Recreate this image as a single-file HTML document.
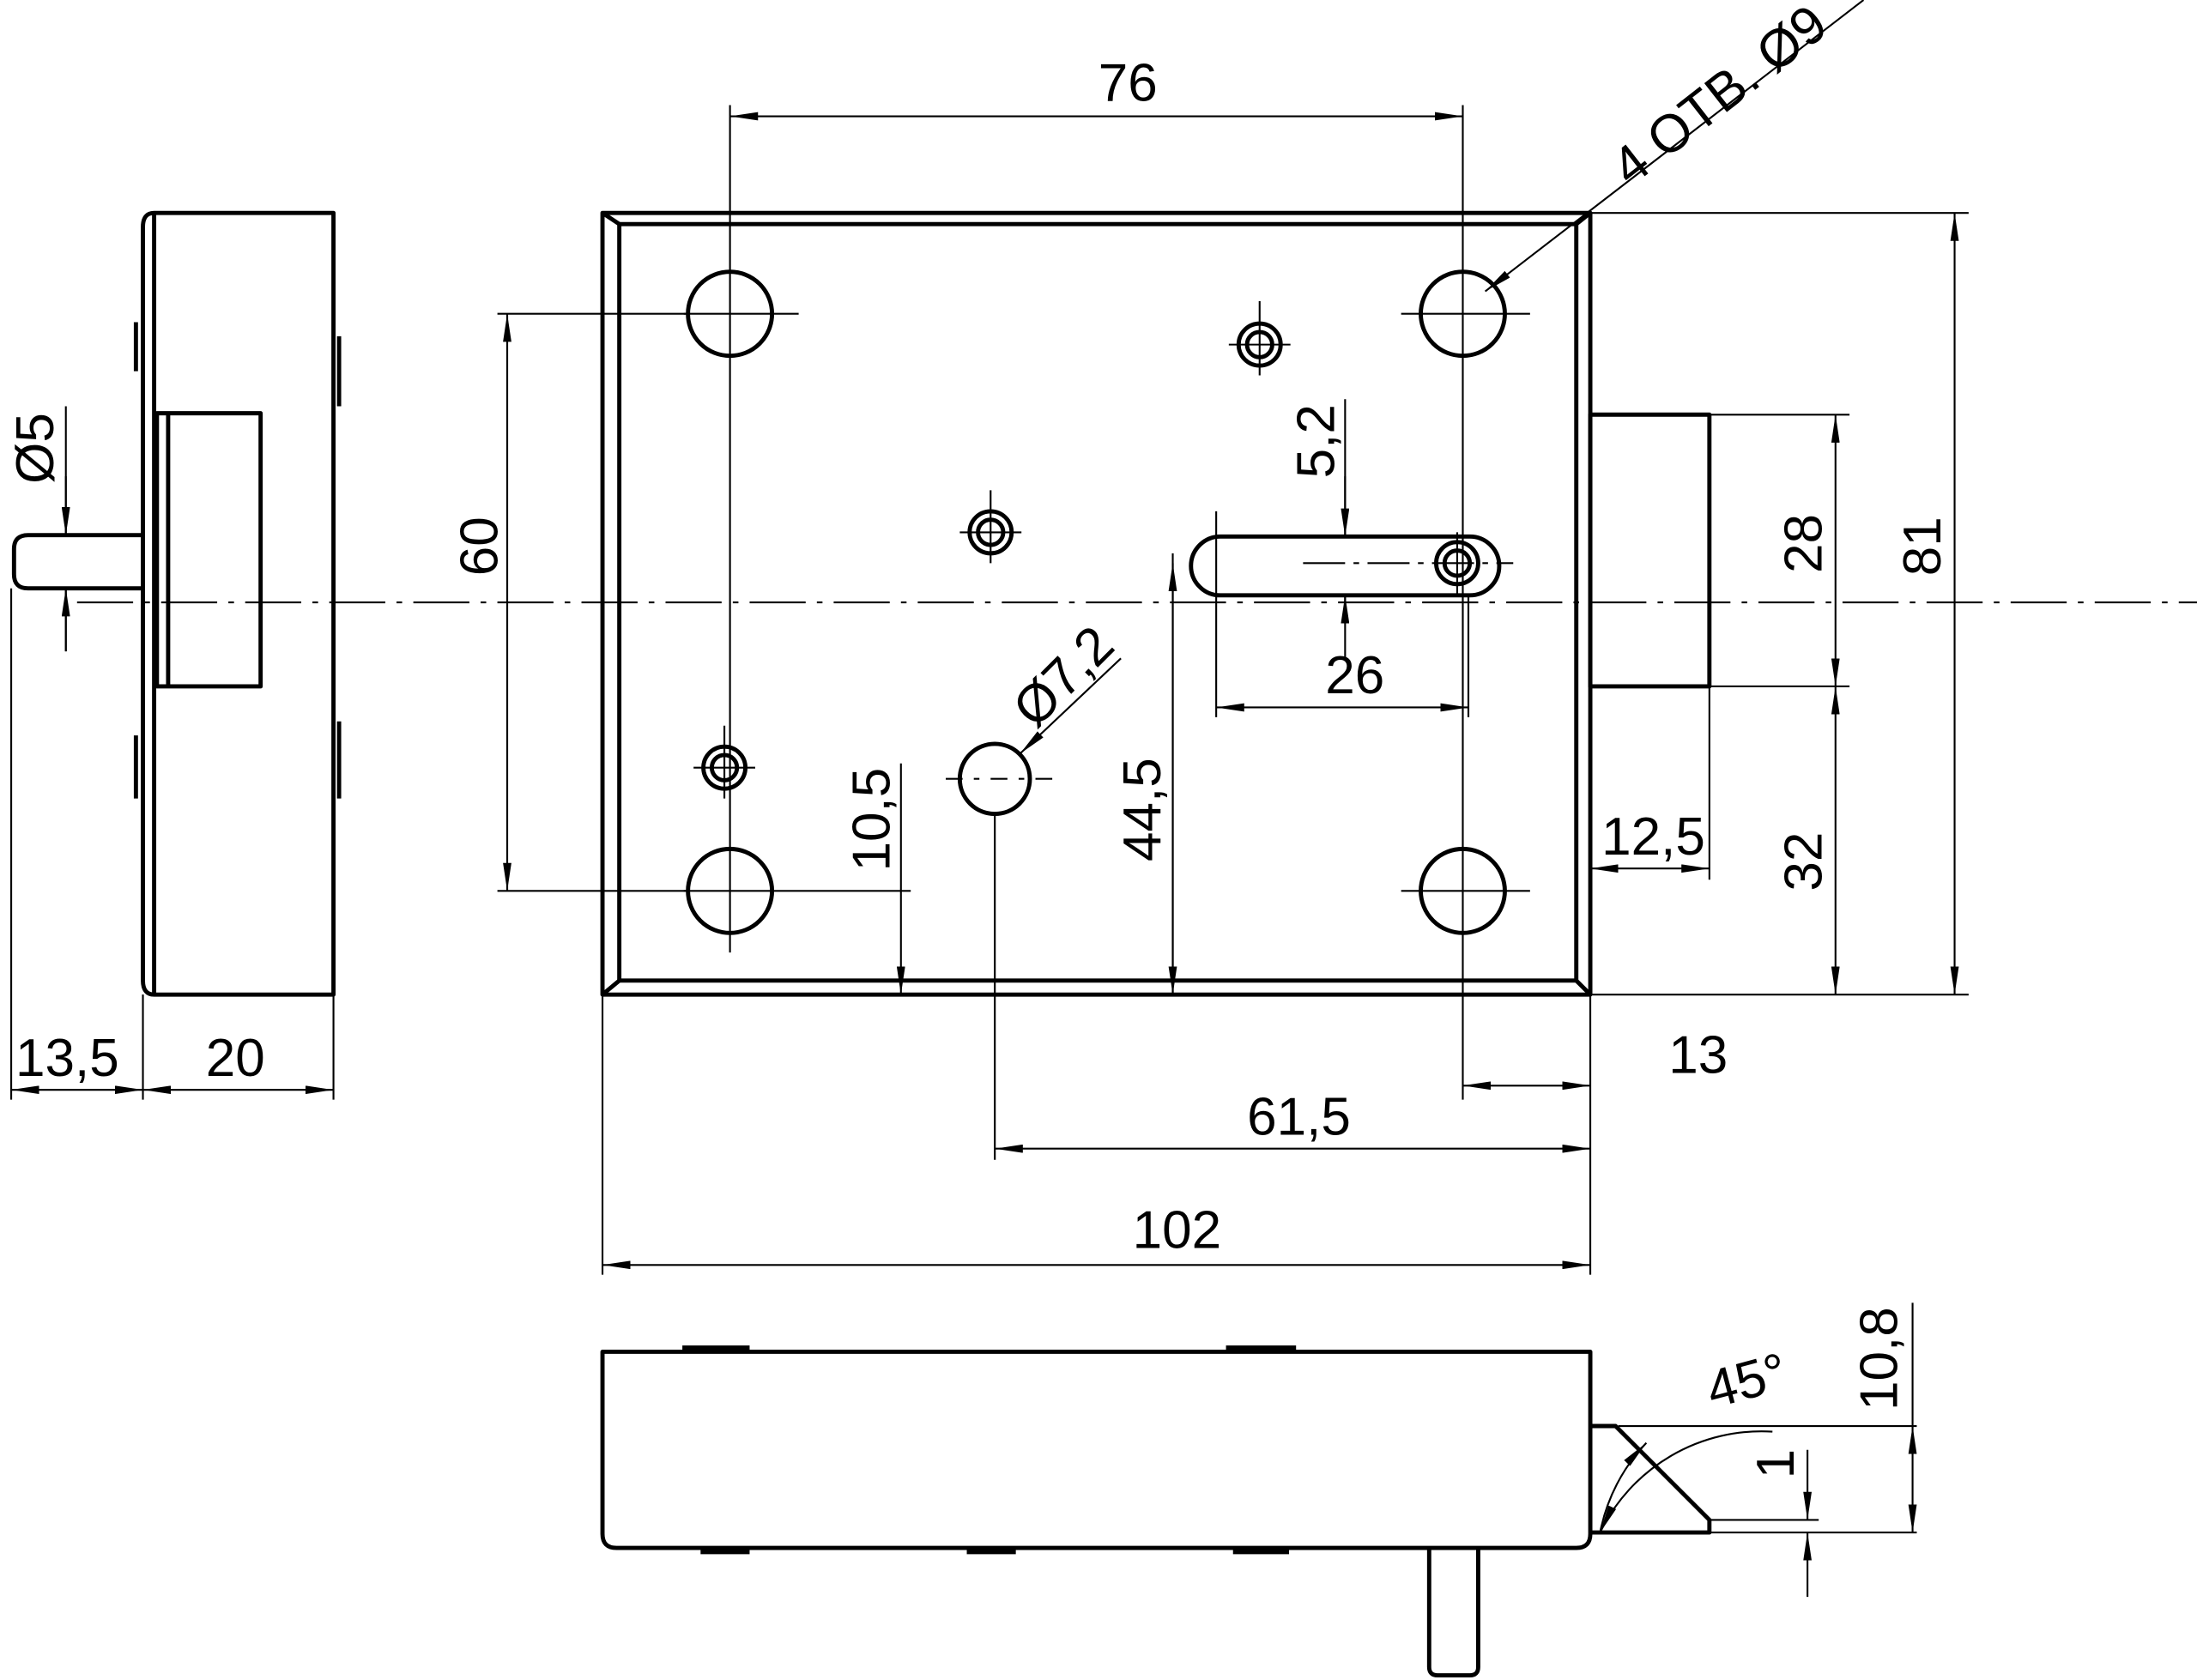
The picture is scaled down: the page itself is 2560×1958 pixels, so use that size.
<!DOCTYPE html>
<html><head><meta charset="utf-8"><style>html,body{margin:0;padding:0;background:#fff}svg{display:block}</style></head><body>
<svg width="2560" height="1958" viewBox="0 0 1568 1199.3" preserveAspectRatio="none" xmlns="http://www.w3.org/2000/svg" font-family="Liberation Sans, sans-serif" font-size="38">
<defs>
<marker id="a" viewBox="0 0 20 6" refX="20" refY="3" markerWidth="20" markerHeight="6" markerUnits="userSpaceOnUse" orient="auto-start-reverse"><path d="M0,0 L20,3 L0,6 Z" fill="#000"/></marker>
</defs>
<g fill="none" stroke="#000" stroke-width="3" stroke-linejoin="round">
<!-- left view -->
<path d="M110,152 H238 V710 H110 Q102,710 102,700 V162 Q102,152 110,152 Z"/>
<line x1="110" y1="152" x2="110" y2="710"/>
<rect x="112" y="295" width="74" height="195"/>
<line x1="120" y1="295" x2="120" y2="490"/>
<path d="M102,382 H20 Q10,382 10,392 V410 Q10,420 20,420 H102"/>
<line x1="97" y1="230" x2="97" y2="265"/><line x1="97" y1="525" x2="97" y2="570"/>
<line x1="242" y1="240" x2="242" y2="290"/><line x1="242" y1="515" x2="242" y2="570"/>
<!-- main plate -->
<rect x="430" y="152" width="705" height="558"/>
<rect x="442" y="160" width="683" height="540"/>
<line x1="430" y1="152" x2="442" y2="160"/><line x1="1135" y1="152" x2="1125" y2="160"/>
<line x1="430" y1="710" x2="442" y2="700"/><line x1="1135" y1="710" x2="1125" y2="700"/>
<circle cx="521" cy="224" r="30"/><circle cx="1044" cy="224" r="30"/>
<circle cx="521" cy="636" r="30"/><circle cx="1044" cy="636" r="30"/>
<circle cx="899" cy="246" r="15"/><circle cx="899" cy="246" r="9"/>
<circle cx="707" cy="380" r="15"/><circle cx="707" cy="380" r="9"/>
<circle cx="517" cy="548" r="15"/><circle cx="517" cy="548" r="9"/>
<circle cx="710" cy="556" r="25"/>
<path d="M871,383 H1049 A21,21 0 0 1 1049,425 H871 A21,21 0 0 1 871,383 Z"/>
<circle cx="1040" cy="402" r="15"/><circle cx="1040" cy="402" r="9"/>
<rect x="1135" y="296" width="85" height="194"/>
<!-- bottom view -->
<path d="M430,965 H1135 V1095 Q1135,1105 1125,1105 H440 Q430,1105 430,1095 Z"/>
<line x1="487" y1="962" x2="535" y2="962"/><line x1="875" y1="962" x2="925" y2="962"/>
<line x1="500" y1="1108" x2="535" y2="1108"/><line x1="690" y1="1108" x2="725" y2="1108"/><line x1="880" y1="1108" x2="920" y2="1108"/>
<path d="M1135,1018 H1153 L1220,1085 V1094 H1135"/>
<path d="M1020,1105 V1190 Q1020,1196 1026,1196 H1049 Q1055,1196 1055,1190 V1105"/>
</g>
<g fill="none" stroke="#000" stroke-width="1.3">
<!-- center lines -->
<line x1="55" y1="430" x2="1568" y2="430" stroke-dasharray="40,8,4,8"/>
<line x1="1040" y1="380" x2="1040" y2="424" /><line x1="930" y1="402" x2="1080" y2="402" stroke-dasharray="30,6,4,6"/>
<g stroke-dasharray="none">
<line x1="488" y1="224" x2="570" y2="224"/><line x1="1000" y1="224" x2="1092" y2="224"/>
<line x1="1000" y1="636" x2="1092" y2="636"/><line x1="488" y1="636" x2="650" y2="636"/>
<line x1="877" y1="246" x2="921" y2="246"/><line x1="899" y1="215" x2="899" y2="268"/>
<line x1="685" y1="380" x2="729" y2="380"/><line x1="707" y1="350" x2="707" y2="402"/>
<line x1="495" y1="548" x2="539" y2="548"/><line x1="517" y1="518" x2="517" y2="570"/>
<line x1="675" y1="556" x2="755" y2="556" stroke-dasharray="12,8,4,8"/>
</g>
<!-- extension lines -->
<line x1="521" y1="75" x2="521" y2="680"/><line x1="1044" y1="75" x2="1044" y2="785"/>
<line x1="355" y1="224" x2="490" y2="224"/><line x1="355" y1="636" x2="490" y2="636"/>
<line x1="1135" y1="152" x2="1405" y2="152"/><line x1="1135" y1="710" x2="1405" y2="710"/>
<line x1="1220" y1="296" x2="1320" y2="296"/><line x1="1220" y1="490" x2="1320" y2="490"/>
<line x1="1220" y1="490" x2="1220" y2="628"/><line x1="1135" y1="710" x2="1135" y2="910"/>
<line x1="430" y1="710" x2="430" y2="910"/><line x1="710" y1="580" x2="710" y2="828"/>
<line x1="868" y1="365" x2="868" y2="512"/><line x1="1048" y1="425" x2="1048" y2="512"/>
<line x1="8" y1="420" x2="8" y2="785"/><line x1="102" y1="710" x2="102" y2="785"/><line x1="238" y1="710" x2="238" y2="785"/>
<line x1="643" y1="545" x2="643" y2="636"/><line x1="837" y1="395" x2="837" y2="710"/>
<line x1="960" y1="285" x2="960" y2="383"/><line x1="960" y1="425" x2="960" y2="445"/>
<line x1="47" y1="290" x2="47" y2="382"/><line x1="47" y1="420" x2="47" y2="465"/>
<!-- dims -->
<g marker-start="url(#a)" marker-end="url(#a)">
<line x1="521" y1="83" x2="1044" y2="83"/>
<line x1="362" y1="224" x2="362" y2="636"/>
<line x1="1395" y1="152" x2="1395" y2="710"/>
<line x1="1310" y1="296" x2="1310" y2="490"/>
<line x1="1310" y1="490" x2="1310" y2="710"/>
<line x1="1135" y1="620" x2="1220" y2="620"/>
<line x1="1044" y1="775" x2="1135" y2="775"/>
<line x1="710" y1="820" x2="1135" y2="820"/>
<line x1="430" y1="903" x2="1135" y2="903"/>
<line x1="8" y1="778" x2="102" y2="778"/>
<line x1="102" y1="778" x2="238" y2="778"/>
<line x1="868" y1="505" x2="1048" y2="505"/>
<line x1="837" y1="402" x2="837" y2="710"/>
</g>
<line x1="643" y1="636" x2="643" y2="710" marker-end="url(#a)"/>
<line x1="960" y1="340" x2="960" y2="383" marker-end="url(#a)"/><line x1="960" y1="470" x2="960" y2="425" marker-end="url(#a)"/>
<line x1="47" y1="340" x2="47" y2="382" marker-end="url(#a)"/><line x1="47" y1="465" x2="47" y2="420" marker-end="url(#a)"/>
<line x1="1330" y1="0" x2="1060" y2="208" marker-end="url(#a)"/>
<line x1="800" y1="470" x2="728" y2="538" marker-end="url(#a)"/>
<!-- bottom dims -->
<line x1="1155" y1="1018" x2="1368" y2="1018"/><line x1="1220" y1="1094" x2="1368" y2="1094"/>
<line x1="1220" y1="1085" x2="1298" y2="1085"/>
<line x1="1365" y1="930" x2="1365" y2="1018"/>
<line x1="1365" y1="1018" x2="1365" y2="1094" marker-start="url(#a)" marker-end="url(#a)"/>
<line x1="1290" y1="1035" x2="1290" y2="1085" marker-end="url(#a)"/><line x1="1290" y1="1140" x2="1290" y2="1094" marker-end="url(#a)"/>
<path d="M1142,1094 A128,128 0 0 1 1265,1022" marker-start="url(#a)"/>
<path d="M1142,1094 A128,128 0 0 1 1175,1030" marker-end="url(#a)"/>
</g>
<g fill="#000" stroke="none">
<text x="805" y="72" text-anchor="middle">76</text>
<text x="355" y="390" text-anchor="middle" transform="rotate(-90 355 390)">60</text>
<text x="1385" y="390" text-anchor="middle" transform="rotate(-90 1385 390)">81</text>
<text x="1300" y="388" text-anchor="middle" transform="rotate(-90 1300 388)">28</text>
<text x="1300" y="615" text-anchor="middle" transform="rotate(-90 1300 615)">32</text>
<text x="1180" y="610" text-anchor="middle">12,5</text>
<text x="1212" y="766" text-anchor="middle">13</text>
<text x="927" y="810" text-anchor="middle">61,5</text>
<text x="840" y="891" text-anchor="middle">102</text>
<text x="48" y="768" text-anchor="middle">13,5</text>
<text x="168" y="768" text-anchor="middle">20</text>
<text x="967" y="495" text-anchor="middle">26</text>
<text x="635" y="585" text-anchor="middle" transform="rotate(-90 635 585)">10,5</text>
<text x="828" y="578" text-anchor="middle" transform="rotate(-90 828 578)">44,5</text>
<text x="952" y="315" text-anchor="middle" transform="rotate(-90 952 315)">5,2</text>
<text x="38" y="320" text-anchor="middle" transform="rotate(-90 38 320)">Ø5</text>
<text x="768" y="492" text-anchor="middle" transform="rotate(-45 768 492)">Ø7,2</text>
<text x="1235" y="78" text-anchor="middle" transform="rotate(-38 1235 78)">4 ОТВ. Ø9</text>
<text x="1250" y="998" text-anchor="middle" transform="rotate(-15 1250 998)">45°</text>
<text x="1280" y="1045" text-anchor="middle" transform="rotate(-90 1280 1045)">1</text>
<text x="1354" y="970" text-anchor="middle" transform="rotate(-90 1354 970)">10,8</text>
</g>
</svg>
</body></html>
